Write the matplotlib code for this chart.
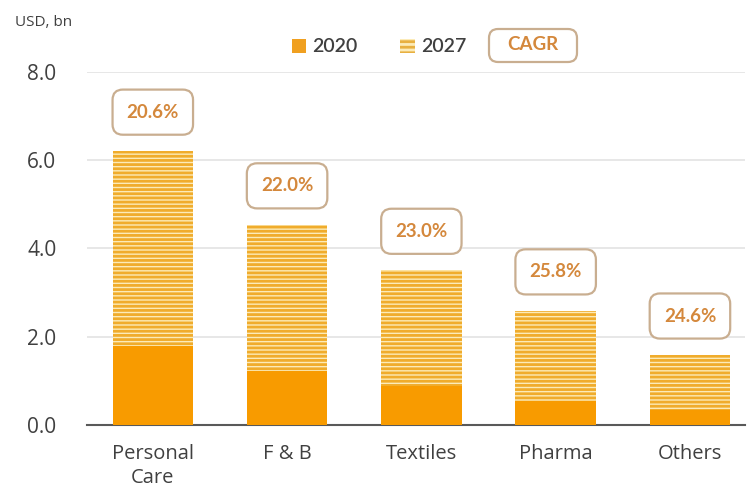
import matplotlib
matplotlib.use("Agg")
import matplotlib.pyplot as plt
from matplotlib.patches import Patch, FancyBboxPatch

categories = ["Personal\nCare", "F & B", "Textiles", "Pharma", "Others"]
values_2020 = [1.8, 1.22, 0.88, 0.54, 0.34]
values_2027 = [6.21, 4.54, 3.51, 2.59, 1.59]
cagr_labels = ["20.6%", "22.0%", "23.0%", "25.8%", "24.6%"]
yticks = [0.0, 2.0, 4.0, 6.0, 8.0]

plt.rcParams['hatch.linewidth'] = 2.0

fig = plt.figure(figsize=(7.53, 4.95), dpi=100)
ax = fig.add_axes([87/753, 1 - 425/495, (745 - 87)/753, (425 - 72)/495])

x = list(range(len(categories)))
ax.bar(x, values_2027, width=0.6, facecolor='#FCEBB8', edgecolor='#F0AC2C',
       hatch='----', linewidth=0, zorder=2)
ax.bar(x, values_2020, width=0.6, color='#F89B00', linewidth=0, zorder=3)

for xi, v, lab in zip(x, values_2027, cagr_labels):
    ax.text(xi, v + 0.88, lab, ha='center', va='center', fontsize=13.5,
            fontweight='bold', family='Lato', color='#D4883C', zorder=5,
            bbox=dict(boxstyle='round,pad=0.75,rounding_size=0.55', fc='white',
                      ec='#C9AE90', lw=1.6))

ax.set_xlim(-0.49, 4.41)
ax.set_ylim(0, 8)
ax.set_yticks(yticks)
ax.set_yticklabels([f"{t:.1f}" for t in yticks], family='Open Sans', fontsize=15, color='#404040')
ax.set_xticks(x)
ax.set_xticklabels(categories, family='Open Sans', fontsize=14.5, color='#404040',
                   linespacing=1.25)
ax.tick_params(axis='both', length=0)
ax.tick_params(axis='x', pad=14)
ax.tick_params(axis='y', pad=22)
ax.grid(axis='y', color='#E3E3E3', linewidth=1.2, zorder=0)
ax.set_axisbelow(True)
for s in ['top', 'right', 'left']:
    ax.spines[s].set_visible(False)
ax.spines['bottom'].set_color('#595959')
ax.spines['bottom'].set_linewidth(1.5)

fig.text(15/753, 1 - 23/495, "USD, bn", family='Open Sans', fontsize=11,
         color='#404040', ha='left', va='center')

handles = [Patch(facecolor='#F0A020', linewidth=0),
           Patch(facecolor='#FCEBB8', edgecolor='#E8B040', hatch='---', linewidth=0)]
leg = fig.legend(handles, ['2020', '2027'], loc='center',
                 bbox_to_anchor=(379/753, 1 - 47/495), ncol=2, frameon=False,
                 prop={'family': 'Lato', 'size': 14, 'weight': 'semibold'},
                 handlelength=0.75, handleheight=0.75, handletextpad=0.3,
                 columnspacing=2.2)
for t in leg.get_texts():
    t.set_color('#404040')

box = FancyBboxPatch((489/753, 1 - 62/495), 88/753, 33/495,
                     boxstyle='round,pad=0,rounding_size=0.012',
                     transform=fig.transFigure, fc='white', ec='#C9AE90', lw=1.6,
                     mutation_aspect=753/495)
fig.patches.append(box)
fig.text(533/753, 1 - 45/495, "CAGR", family='Lato', fontsize=13.5, fontweight='bold',
         color='#D4883C', ha='center', va='center')

fig.savefig("out.png", dpi=100)
